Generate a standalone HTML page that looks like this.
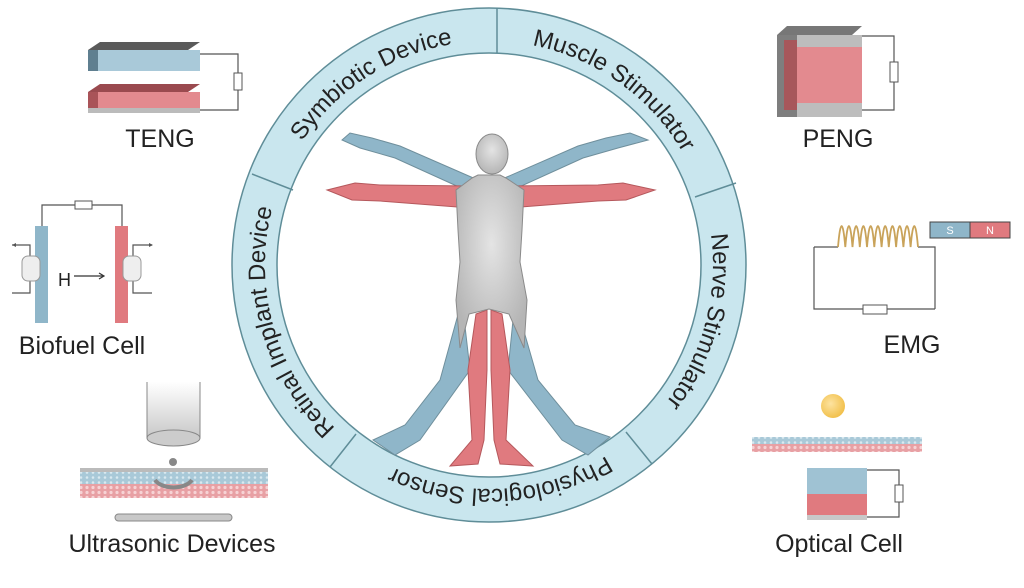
<!DOCTYPE html>
<html><head><meta charset="utf-8"><style>
html,body{margin:0;padding:0;background:#fff;}
svg{display:block;}
text{font-family:"Liberation Sans",sans-serif;fill:#222;}
</style></head><body>
<svg width="1024" height="588" viewBox="0 0 1024 588" xmlns="http://www.w3.org/2000/svg">
<defs>
<linearGradient id="cyl" x1="0" y1="0" x2="0" y2="1"><stop offset="0" stop-color="#fff"/><stop offset="1" stop-color="#c8c8c8"/></linearGradient>
<radialGradient id="body" cx="0.5" cy="0.4" r="0.6"><stop offset="0" stop-color="#e4e4e4"/><stop offset="1" stop-color="#b5b5b5"/></radialGradient>
<radialGradient id="sun" cx="0.4" cy="0.4" r="0.6"><stop offset="0" stop-color="#fde3a0"/><stop offset="1" stop-color="#f2c14e"/></radialGradient>
<pattern id="dots" width="6" height="5" patternUnits="userSpaceOnUse"><rect width="6" height="5" fill="#e8a0a4"/><circle cx="3" cy="2.5" r="1.6" fill="#f6d3d5"/></pattern>
<pattern id="bdots" width="6" height="5" patternUnits="userSpaceOnUse"><rect width="6" height="5" fill="#a9c9d8"/><circle cx="3" cy="2.5" r="1.3" fill="#d9e9f0"/></pattern>
<path id="ring" d="M 278.5 188.4 A 224 224 0 1 1 278.5 341.6 A 224 224 0 0 1 278.5 188.4"/>
</defs>

<circle cx="489" cy="265" r="234.5" fill="none" stroke="#c9e6ee" stroke-width="45"/>
<circle cx="489" cy="265" r="257" fill="none" stroke="#5f8d98" stroke-width="1.5"/>
<circle cx="489" cy="265" r="212" fill="none" stroke="#5f8d98" stroke-width="1.5"/>
<g stroke="#5f8d98" stroke-width="1.5">
<line x1="497" y1="8" x2="497" y2="53"/>
<line x1="736" y1="183" x2="695" y2="197"/>
<line x1="652" y1="464" x2="626" y2="432"/>
<line x1="330" y1="467" x2="356" y2="434"/>
<line x1="252" y1="174" x2="293" y2="190"/>
</g>
<g font-size="24">
<text><textPath href="#ring" startOffset="10.3%" text-anchor="middle">Symbiotic Device</textPath></text>
<text><textPath href="#ring" startOffset="29.3%" text-anchor="middle">Muscle  Stimulator</textPath></text>
<text><textPath href="#ring" startOffset="48.6%" text-anchor="middle">Nerve  Stimulator</textPath></text>
<text><textPath href="#ring" startOffset="68.6%" text-anchor="middle">Physiological Sensor</textPath></text>
<text><textPath href="#ring" startOffset="90%" text-anchor="middle">Retinal Implant Device</textPath></text>
</g>

<g stroke="#6f8f9c" stroke-width="1">
<path d="M462 300 L440 380 L405 425 L373 440 L395 455 L420 440 L470 370 Z" fill="#8fb6c9"/>
<path d="M515 300 L538 380 L575 425 L610 437 L588 455 L562 440 L508 370 Z" fill="#8fb6c9"/>
<path d="M470 192 L395 158 L360 148 L342 140 L350 133 L372 138 L400 146 L478 180 Z" fill="#8fb6c9"/>
<path d="M508 192 L583 158 L618 148 L648 140 L630 133 L606 138 L578 146 L500 180 Z" fill="#8fb6c9"/>
</g>
<g stroke="#b5585c" stroke-width="1">
<path d="M470 186 L380 185 L355 183 L327 190 L352 200 L380 201 L470 208 Z" fill="#e07a7f"/>
<path d="M508 186 L598 185 L623 183 L655 190 L626 200 L598 201 L508 208 Z" fill="#e07a7f"/>
<path d="M487 310 L476 314 L468 370 L472 440 L450 466 L478 464 L484 440 L487 370 Z" fill="#e07a7f"/>
<path d="M491 310 L502 314 L510 370 L506 440 L533 466 L500 464 L494 440 L491 370 Z" fill="#e07a7f"/>
</g>
<g stroke="#8a8a8a" stroke-width="1" fill="url(#body)">
<path d="M472 178 L478 175 L500 175 L506 178 L524 190 L522 230 L520 262 L527 300 L524 348 L509 314 L489 309 L469 314 L460 348 L456 300 L460 262 L458 230 L456 190 Z"/>
<ellipse cx="492" cy="154" rx="16" ry="20"/>
</g>

<polygon points="88,50 100,42 200,42 188,50" fill="#5a5a5a"/>
<rect x="88" y="50" width="112" height="21" fill="#a9c9d9"/>
<rect x="88" y="50" width="10" height="21" fill="#5f7f90"/>
<polygon points="88,92 100,84 200,84 188,92" fill="#9a4a4f"/>
<rect x="88" y="92" width="112" height="16" fill="#e38a8f"/>
<rect x="88" y="92" width="10" height="16" fill="#a95358"/>
<rect x="88" y="108" width="112" height="5" fill="#bbb"/>
<path d="M200 54 H238 V110 H200" fill="none" stroke="#555" stroke-width="1.2"/>
<rect x="234" y="73" width="8" height="17" fill="#fff" stroke="#555"/>
<text x="160" y="147" font-size="25" text-anchor="middle">TENG</text>

<rect x="35" y="226" width="13" height="97" fill="#8fb6c9"/>
<rect x="115" y="226" width="13" height="97" fill="#e07a7f"/>
<path d="M42 226 V205 H122 V226" fill="none" stroke="#555" stroke-width="1.2"/>
<rect x="75" y="201" width="17" height="8" fill="#fff" stroke="#555"/>
<path d="M30 258 V245 H12 M30 280 V293 H12" fill="none" stroke="#555" stroke-width="1.2"/>
<path d="M12 245 l4 -2 v4 z" fill="#555"/>
<path d="M133 258 V245 H152 M133 280 V293 H152" fill="none" stroke="#555" stroke-width="1.2"/>
<path d="M153 245 l-4 -2 v4 z" fill="#555"/>
<rect x="22" y="256" width="18" height="25" rx="6" fill="#eee" stroke="#999"/>
<rect x="123" y="256" width="18" height="25" rx="6" fill="#eee" stroke="#999"/>
<text x="58" y="286" font-size="18">H</text>
<path d="M74 276 H103 M99 273 L104 276 L99 279" fill="none" stroke="#333" stroke-width="1.2"/>
<text x="82" y="354" font-size="25" text-anchor="middle">Biofuel Cell</text>

<rect x="147" y="382" width="53" height="56" fill="url(#cyl)"/>
<line x1="147" y1="382" x2="147" y2="438" stroke="#888"/>
<line x1="200" y1="382" x2="200" y2="438" stroke="#888"/>
<ellipse cx="173.5" cy="438" rx="26.5" ry="8" fill="#ccc" stroke="#888"/>
<circle cx="173" cy="462" r="4" fill="#888"/>
<rect x="80" y="468" width="188" height="4" fill="#bbb"/>
<rect x="80" y="472" width="188" height="12" fill="url(#bdots)"/>
<rect x="80" y="484" width="188" height="14" fill="url(#dots)"/>
<path d="M155 480 A20 12 0 0 0 192 480" fill="none" stroke="#888" stroke-width="4"/>
<rect x="115" y="514" width="117" height="7" rx="3.5" fill="#c8c8c8" stroke="#888"/>
<text x="172" y="552" font-size="25" text-anchor="middle">Ultrasonic Devices</text>

<polygon points="777,35 787,26 862,26 852,35" fill="#777"/>
<rect x="777" y="35" width="20" height="82" fill="#7e7e7e"/>
<rect x="784" y="40" width="13" height="70" fill="#a7575b"/>
<rect x="797" y="35" width="65" height="82" fill="#e38a8f"/>
<rect x="797" y="35" width="65" height="12" fill="#bdbdbd"/>
<rect x="797" y="103" width="65" height="14" fill="#bdbdbd"/>
<path d="M862 36 H894 V110 H862" fill="none" stroke="#555" stroke-width="1.2"/>
<rect x="890" y="62" width="8" height="20" fill="#fff" stroke="#555"/>
<text x="838" y="147" font-size="25" text-anchor="middle">PENG</text>

<path d="M814 247 H838 M918 247 H935 V309 M814 247 V309 H935" fill="none" stroke="#555" stroke-width="1.2"/>
<path d="M838 247 Q841.6 205 845.3 247 Q848.9 205 852.5 247 Q856.2 205 859.8 247 Q863.4 205 867 247 Q870.7 205 874.3 247 Q877.9 205 881.6 247 Q885.2 205 888.8 247 Q892.5 205 896.1 247 Q899.7 205 903.4 247 Q907 205 910.6 247 Q914.3 205 918 247" fill="none" stroke="#c9a35a" stroke-width="1.8"/>
<rect x="863" y="305" width="24" height="9" fill="#fff" stroke="#555"/>
<rect x="930" y="222" width="40" height="16" fill="#8fb6c9" stroke="#444"/>
<rect x="970" y="222" width="40" height="16" fill="#e07a7f" stroke="#444"/>
<text x="950" y="234" font-size="11" text-anchor="middle" style="fill:#fff">S</text>
<text x="990" y="234" font-size="11" text-anchor="middle" style="fill:#fff">N</text>
<text x="912" y="353" font-size="25" text-anchor="middle">EMG</text>

<circle cx="833" cy="406" r="12" fill="url(#sun)"/>
<rect x="752" y="437" width="170" height="7" fill="url(#bdots)"/>
<rect x="752" y="444" width="170" height="8" fill="url(#dots)"/>
<rect x="807" y="468" width="60" height="26" fill="#9fc2d3"/>
<rect x="807" y="494" width="60" height="21" fill="#e07a7f"/>
<rect x="807" y="515" width="60" height="5" fill="#c8c8c8"/>
<path d="M867 470 H899 V517 H867" fill="none" stroke="#555" stroke-width="1.2"/>
<rect x="895" y="485" width="8" height="17" fill="#fff" stroke="#555"/>
<text x="839" y="552" font-size="25" text-anchor="middle">Optical Cell</text>
</svg>
</body></html>
